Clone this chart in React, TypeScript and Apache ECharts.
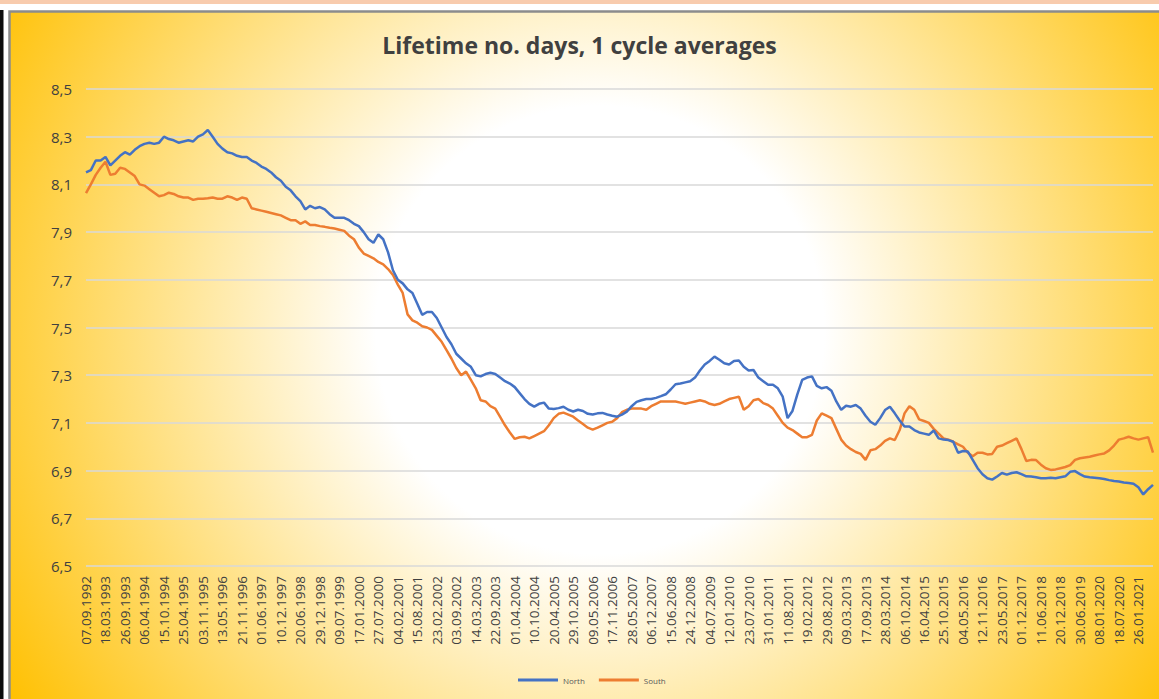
import React, { useEffect, useRef } from "react";
import * as echarts from "echarts";

const titleText = "Lifetime no. days, 1 cycle averages";

// Tick labels shown on the category axis (one every 192 days)
const tickLabels = [
  "07.09.1992", "18.03.1993", "26.09.1993", "06.04.1994", "15.10.1994", "25.04.1995",
  "03.11.1995", "13.05.1996", "21.11.1996", "01.06.1997", "10.12.1997", "20.06.1998",
  "29.12.1998", "09.07.1999", "17.01.2000", "27.07.2000", "04.02.2001", "15.08.2001",
  "23.02.2002", "03.09.2002", "14.03.2003", "22.09.2003", "01.04.2004", "10.10.2004",
  "20.04.2005", "29.10.2005", "09.05.2006", "17.11.2006", "28.05.2007", "06.12.2007",
  "15.06.2008", "24.12.2008", "04.07.2009", "12.01.2010", "23.07.2010", "31.01.2011",
  "11.08.2011", "19.02.2012", "29.08.2012", "09.03.2013", "17.09.2013", "28.03.2014",
  "06.10.2014", "16.04.2015", "25.10.2015", "04.05.2016", "12.11.2016", "23.05.2017",
  "01.12.2017", "11.06.2018", "20.12.2018", "30.06.2019", "08.01.2020", "18.07.2020",
  "26.01.2021",
];

// Sampling: 4 readings per tick interval (every 48 days)
const stepsPerTick = 4;
const daysPerStep = 48;

const northValues = [
  8.15, 8.16, 8.2, 8.2,
  8.215, 8.18, 8.2, 8.22,
  8.235, 8.225, 8.245, 8.26,
  8.27, 8.275, 8.27, 8.275,
  8.3, 8.29, 8.285, 8.275,
  8.28, 8.285, 8.28, 8.3,
  8.31, 8.328, 8.3, 8.27,
  8.25, 8.235, 8.23, 8.22,
  8.215, 8.215, 8.2, 8.19,
  8.175, 8.165, 8.15, 8.13,
  8.115, 8.09, 8.075, 8.05,
  8.03, 7.995, 8.01, 8.0,
  8.005, 7.995, 7.975, 7.96,
  7.96, 7.96, 7.95, 7.935,
  7.925, 7.9, 7.87, 7.855,
  7.89, 7.87, 7.815, 7.74,
  7.7, 7.685, 7.66, 7.645,
  7.6, 7.553, 7.565, 7.565,
  7.54, 7.5, 7.46, 7.43,
  7.39, 7.37, 7.35, 7.335,
  7.3, 7.295, 7.305, 7.31,
  7.305, 7.29, 7.275, 7.265,
  7.25, 7.225, 7.2, 7.18,
  7.168, 7.18, 7.185, 7.16,
  7.158, 7.162, 7.168, 7.155,
  7.148, 7.155, 7.15, 7.138,
  7.135, 7.14, 7.142, 7.135,
  7.13, 7.126, 7.135, 7.147,
  7.17, 7.188, 7.195, 7.2,
  7.2, 7.205, 7.212, 7.22,
  7.24, 7.262, 7.265, 7.27,
  7.275, 7.29, 7.32, 7.345,
  7.36, 7.378, 7.365, 7.35,
  7.345, 7.36, 7.362, 7.335,
  7.32, 7.322, 7.29, 7.275,
  7.26, 7.26, 7.245, 7.21,
  7.12, 7.15, 7.22, 7.28,
  7.29, 7.295, 7.255, 7.245,
  7.25, 7.235, 7.19, 7.155,
  7.172, 7.168, 7.175, 7.16,
  7.13, 7.105, 7.092, 7.12,
  7.154, 7.168, 7.14, 7.11,
  7.085, 7.085, 7.07, 7.06,
  7.055, 7.05, 7.068, 7.035,
  7.03, 7.028, 7.021, 6.975,
  6.982, 6.98, 6.945, 6.91,
  6.885, 6.868, 6.862, 6.875,
  6.89, 6.883, 6.89, 6.893,
  6.885, 6.876, 6.875, 6.872,
  6.868, 6.868, 6.87, 6.868,
  6.872, 6.876, 6.895, 6.898,
  6.885, 6.875, 6.872, 6.87,
  6.868, 6.865, 6.86, 6.856,
  6.854, 6.85, 6.848, 6.845,
  6.83, 6.8, 6.822, 6.84,
];

const southValues = [
  8.063, 8.1, 8.14, 8.17,
  8.195, 8.14, 8.145, 8.17,
  8.165, 8.15, 8.135, 8.1,
  8.095, 8.08, 8.065, 8.05,
  8.055, 8.065, 8.06, 8.05,
  8.045, 8.045, 8.035, 8.04,
  8.04, 8.042, 8.045, 8.04,
  8.04, 8.05, 8.045, 8.035,
  8.045, 8.04, 8.0, 7.995,
  7.99, 7.985, 7.98, 7.975,
  7.97, 7.96, 7.95, 7.95,
  7.935, 7.945, 7.93, 7.93,
  7.925, 7.922, 7.918, 7.915,
  7.91, 7.905, 7.885, 7.87,
  7.835, 7.81, 7.8, 7.79,
  7.775, 7.765, 7.745, 7.72,
  7.68, 7.645, 7.555, 7.53,
  7.52, 7.505, 7.5, 7.49,
  7.465, 7.44, 7.405, 7.37,
  7.33, 7.3, 7.315, 7.28,
  7.245, 7.195, 7.19, 7.17,
  7.16, 7.125, 7.09, 7.06,
  7.033, 7.04, 7.042, 7.035,
  7.045, 7.055, 7.065, 7.09,
  7.12, 7.138, 7.143, 7.135,
  7.126, 7.11, 7.095, 7.08,
  7.072, 7.08, 7.09, 7.1,
  7.105, 7.12, 7.145, 7.155,
  7.16, 7.16, 7.16, 7.155,
  7.17, 7.18, 7.19, 7.19,
  7.19, 7.19, 7.185, 7.18,
  7.185, 7.19, 7.195, 7.19,
  7.18, 7.175, 7.18, 7.19,
  7.2, 7.205, 7.21, 7.155,
  7.17, 7.195, 7.2, 7.183,
  7.175, 7.16, 7.13, 7.1,
  7.08, 7.07, 7.055, 7.04,
  7.04, 7.05, 7.11, 7.14,
  7.13, 7.12, 7.075, 7.03,
  7.005, 6.99, 6.978, 6.97,
  6.945, 6.985, 6.99, 7.005,
  7.025, 7.035, 7.028, 7.07,
  7.14, 7.17, 7.155, 7.115,
  7.108, 7.1, 7.075, 7.055,
  7.035, 7.03, 7.021, 7.01,
  7.0, 6.975, 6.96, 6.975,
  6.975, 6.968, 6.97, 7.0,
  7.005, 7.015, 7.025, 7.035,
  6.99, 6.94, 6.945, 6.944,
  6.925, 6.91, 6.903, 6.905,
  6.91, 6.915, 6.923, 6.945,
  6.952, 6.955, 6.958, 6.963,
  6.968, 6.972, 6.985, 7.005,
  7.03, 7.035, 7.042, 7.035,
  7.03, 7.035, 7.04, 6.975,
];

const seriesNames = ["North", "South"];
const seriesColors = ["#4472c4", "#ed7d31"];

function pad(n: number) {
  return n < 10 ? "0" + n : String(n);
}

function buildCategories(): string[] {
  const out: string[] = [];
  tickLabels.forEach((lab) => {
    const [d, m, y] = lab.split(".").map(Number);
    for (let j = 0; j < stepsPerTick; j++) {
      const dt = new Date(Date.UTC(y, m - 1, d + j * daysPerStep));
      out.push(pad(dt.getUTCDate()) + "." + pad(dt.getUTCMonth() + 1) + "." + dt.getUTCFullYear());
    }
  });
  return out;
}

export default function App() {
  const ref = useRef<HTMLDivElement>(null);

  useEffect(() => {
    if (!ref.current) return;
    const chart = echarts.init(ref.current, null, { renderer: "svg" });
    const categories = buildCategories();
    const font = "'Open Sans', 'Liberation Sans', sans-serif";

    chart.setOption({
      animation: false,
      graphic: [
        {
          type: "rect",
          z: -10,
          silent: true,
          shape: { x: 0, y: 0, width: 1159, height: 4 },
          style: { fill: "#f8cbad" },
        },
        {
          type: "rect",
          z: -10,
          silent: true,
          shape: { x: 0, y: 10, width: 3.5, height: 689 },
          style: { fill: "#0d0d0d" },
        },
        {
          type: "rect",
          z: -10,
          silent: true,
          shape: { x: 9.5, y: 11.5, width: 1160, height: 700 },
          style: {
            fill: new echarts.graphic.RadialGradient(
              600,
              330,
              700,
              [
                { offset: 0, color: "#ffffff" },
                { offset: 0.32, color: "#ffffff" },
                { offset: 1, color: "#ffc000" },
              ],
              true
            ),
            stroke: "#8c8c8c",
            lineWidth: 2.5,
          },
        },
      ],
      title: {
        text: titleText,
        left: "center",
        top: 28,
        textStyle: {
          fontFamily: font,
          fontSize: 23,
          fontWeight: "bold",
          color: "#404040",
        },
      },
      legend: {
        left: 513,
        top: 671,
        itemWidth: 40,
        itemHeight: 3,
        itemGap: 14,
        icon: "rect",
        textStyle: { fontFamily: font, fontSize: 8, color: "#595959" },
        data: seriesNames,
      },
      grid: { left: 86, right: 6, top: 89, bottom: 133, containLabel: false },
      xAxis: {
        type: "category",
        data: categories,
        boundaryGap: false,
        axisLine: { show: false },
        axisTick: { show: false },
        splitLine: { show: false },
        axisLabel: {
          interval: stepsPerTick - 1,
          rotate: 90,
          margin: 10,
          fontFamily: font,
          fontSize: 13.5,
          color: "#404040",
        },
      },
      yAxis: {
        type: "value",
        min: 6.5,
        max: 8.5,
        interval: 0.2,
        axisLine: { show: false },
        axisTick: { show: false },
        splitLine: { lineStyle: { color: "#d9d9d9", width: 1.5 } },
        axisLabel: {
          margin: 14,
          fontFamily: font,
          fontSize: 15,
          color: "#404040",
          formatter: (v: number) => v.toFixed(1).replace(".", ","),
        },
      },
      series: [
        {
          name: seriesNames[0],
          type: "line",
          data: northValues,
          showSymbol: false,
          symbol: "none",
          lineStyle: { color: seriesColors[0], width: 2.5 },
          itemStyle: { color: seriesColors[0] },
          z: 3,
        },
        {
          name: seriesNames[1],
          type: "line",
          data: southValues,
          showSymbol: false,
          symbol: "none",
          lineStyle: { color: seriesColors[1], width: 2.5 },
          itemStyle: { color: seriesColors[1] },
          z: 2,
        },
      ],
    });

    return () => chart.dispose();
  }, []);

  return (
    <div
      ref={ref}
      style={{ position: "fixed", left: 0, top: 0, width: 1159, height: 699, background: "#ffffff" }}
    />
  );
}
